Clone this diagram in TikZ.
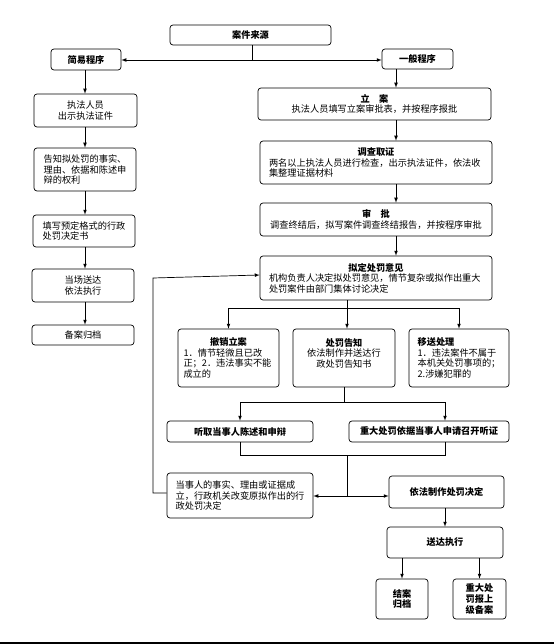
\documentclass[tikz,border=0pt]{standalone}
\usepackage{fontspec}
\setmainfont{Noto Sans CJK SC}
\usetikzlibrary{arrows.meta, positioning}

\begin{document}
\begin{tikzpicture}[x=1pt, y=-1pt, >=latex,
    box/.style={draw, rounded corners=3pt, line width=0.7pt, inner sep=2pt, align=center, font=\fontsize{9.2}{10.6}\selectfont},
    lbox/.style={box, align=left},
    link/.style={line width=0.7pt},
    flow/.style={->, line width=0.7pt}]
    \useasboundingbox (0,0) rectangle (554,644);

    \node[box, minimum width=161pt, minimum height=20pt] (src) at (250.5,35) {\textbf{案件来源}};
    \node[box, minimum width=70pt, minimum height=21pt] (simple) at (86,59.5) {\textbf{简易程序}};
    \node[box, minimum width=71pt, minimum height=20pt] (general) at (417.5,59) {\textbf{一般程序}};

    \node[box, minimum width=103pt, minimum height=33pt] (staff) at (85.5,110.5) {执法人员\\出示执法证件};
    \node[lbox, minimum width=102pt, minimum height=43pt] (inform) at (85,169.5) {告知拟处罚的事实、\\理由、依据和陈述申\\辩的权利};
    \node[lbox, minimum width=102pt, minimum height=32pt] (fillin) at (84,231) {填写预定格式的行政\\处罚决定书};
    \node[box, minimum width=102pt, minimum height=33pt] (deliver) at (83,285.5) {当场送达\\依法执行};
    \node[box, minimum width=102pt, minimum height=20pt] (archive) at (83,335) {备案归档};

    \node[box, minimum width=233pt, minimum height=32pt] (lian) at (374.5,104) {\textbf{立\quad 案}\\执法人员填写立案审批表，并按程序报批};
    \node[lbox, text width=214pt, minimum width=232pt, minimum height=43pt] (survey) at (376,162.5) {\makebox[\linewidth]{\textbf{调查取证}}\\两名以上执法人员进行检查，出示执法证件，依法收\\集整理证据材料};
    \node[box, minimum width=232pt, minimum height=33pt] (approve) at (376,219.5) {\textbf{审\quad 批}\\调查终结后，拟写案件调查终结报告，并按程序审批};
    \node[lbox, text width=214pt, minimum width=232pt, minimum height=44pt] (draft) at (376,278) {\makebox[\linewidth]{\textbf{拟定处罚意见}}\\机构负责人决定拟处罚意见，情节复杂或拟作出重大\\处罚案件由部门集体讨论决定};

    \node[lbox, text width=90pt, minimum width=101pt, minimum height=58pt] (revoke) at (228.5,358) {\makebox[\linewidth]{\textbf{撤销立案}}\\1．情节轻微且已改\\正；2．违法事实不能\\成立的};
    \node[box, minimum width=102pt, minimum height=58pt] (notify) at (344,358) {\textbf{处罚告知}\\依法制作并送达行\\政处罚告知书\\\mbox{}};
    \node[lbox, minimum width=100pt, minimum height=58pt] (transfer) at (459,358) {\textbf{移送处理}\\1．违法案件不属于\\本机关处罚事项的；\\2.涉嫌犯罪的};

    \node[box, minimum width=146pt, minimum height=21pt] (hear) at (240,431.5) {\textbf{听取当事人陈述和申辩}};
    \node[box, minimum width=160pt, minimum height=21pt] (hearing) at (429,431.5) {\textbf{重大处罚依据当事人申请召开听证}};

    \node[lbox, minimum width=146pt, minimum height=45pt] (change) at (240,495.5) {当事人的事实、理由或证据成\\立，行政机关改变原拟作出的行\\政处罚决定};
    \node[box, minimum width=115pt, minimum height=32pt] (decide) at (446.5,492) {\textbf{依法制作处罚决定}};
    \node[box, minimum width=116pt, minimum height=31pt] (send) at (445,542.5) {\textbf{送达执行}};
    \node[box, minimum width=52pt, minimum height=40pt] (close) at (402,599) {\textbf{结案}\\\textbf{归档}};
    \node[box, minimum width=53pt, minimum height=40pt] (report) at (479.5,599) {\textbf{重大处}\\\textbf{罚报上}\\\textbf{级备案}};

    \coordinate (j0) at (252,60);
    \coordinate (lc) at (85,0);
    \coordinate (mc) at (396,0);
    \coordinate (hc) at (445,0);
    \coordinate (fb) at (153,0);
    \coordinate (b1) at (347,308);
    \coordinate (b2) at (344,402);
    \coordinate (b3) at (347,455);
    \coordinate (b4) at (347,496);

    \draw[link] (src.south -| j0) -- (j0);
    \draw[flow] (j0) -- (simple.east |- j0);
    \draw[flow] (j0) -- (general.west |- j0);

    \draw[flow] (simple.south -| lc) -- (staff.north -| lc);
    \draw[flow] (staff.south -| lc) -- (inform.north -| lc);
    \draw[flow] (inform.south -| lc) -- (fillin.north -| lc);
    \draw[flow] (fillin.south -| lc) -- (deliver.north -| lc);
    \draw[flow] (deliver.south -| lc) -- (archive.north -| lc);

    \draw[flow] (general.south -| mc) -- (lian.north -| mc);
    \draw[flow] (lian.south -| mc) -- (survey.north -| mc);
    \draw[flow] (survey.south -| mc) -- (approve.north -| mc);
    \draw[flow] (approve.south -| mc) -- (draft.north -| mc);

    \draw[link] (draft.south -| b1) -- (b1);
    \draw[link] (revoke.north |- b1) -- (transfer.north |- b1);
    \draw[flow] (revoke.north |- b1) -- (revoke.north);
    \draw[flow] (b1) -- (notify.north -| b1);
    \draw[flow] (transfer.north |- b1) -- (transfer.north);

    \draw[link] (notify.south -| b2) -- (b2);
    \draw[link] (hear.north |- b2) -- (b2 -| hc);
    \draw[flow] (hear.north |- b2) -- (hear.north);
    \draw[flow] (b2 -| hc) -- (hearing.north -| hc);

    \draw[link] (hear.south) -- (hear.south |- b3) -- (b3 -| hc) -- (hearing.south -| hc);
    \draw[link] (b3) -- (b4);
    \draw[flow] (b4) -- (change.east |- b4);
    \draw[flow] (b4) -- (decide.west |- b4);

    \draw[flow] ([yshift=2.5pt]change.west) -| (fb |- draft.west) -- ([yshift=3pt]draft.west);

    \draw[flow] (decide.south -| hc) -- (send.north -| hc);
    \draw[flow] (close.north |- send.south) -- (close.north);
    \draw[flow] (report.north |- send.south) -- (report.north);

    \draw[line width=1.5pt] (0,643) -- (554,643);
\end{tikzpicture}
\end{document}
